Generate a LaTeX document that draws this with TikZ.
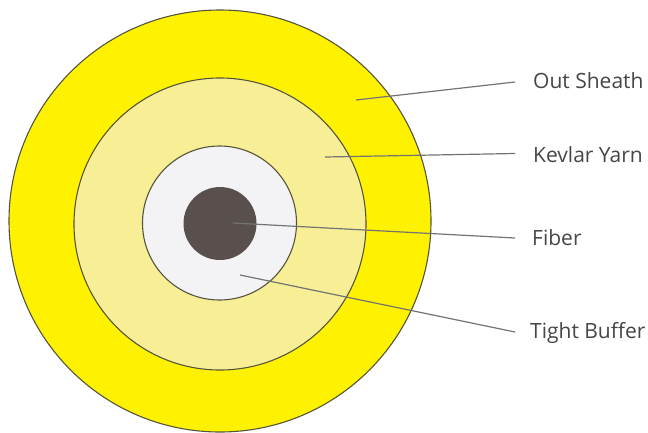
\documentclass[tikz,border=0pt]{standalone}
\usepackage{fontspec}
\setmainfont{Open Sans}
\definecolor{ringline}{RGB}{85,85,60}
\definecolor{sheath}{RGB}{255,242,0}
\definecolor{kevlar}{RGB}{247,238,150}
\definecolor{buffer}{RGB}{243,243,246}
\definecolor{core}{RGB}{89,80,78}
\definecolor{leader}{RGB}{115,115,115}
\definecolor{labeltext}{RGB}{70,70,70}
\tikzset{
  ring/.style={draw=ringline,line width=1.1pt,circle,inner sep=0pt},
  leaderline/.style={draw=leader,line width=1.2pt},
  lbl/.style={anchor=west,inner sep=0pt,text=labeltext,font=\fontsize{21pt}{24pt}\selectfont},
}
\begin{document}
\begin{tikzpicture}[x=1pt,y=-1pt]
\useasboundingbox (0,0) rectangle (648,432);
\node[ring,fill=sheath,minimum size=422pt] (outer) at (220,221) {};
\node[ring,fill=kevlar,minimum size=292pt] (yarn) at (220,224) {};
\node[ring,fill=buffer,minimum size=154pt] (tight) at (219.5,223) {};
\node[circle,inner sep=0pt,fill=core,minimum size=73pt] (fibercore) at (220,223.5) {};
\coordinate (a1) at (356,100);
\coordinate (a2) at (515,82);
\coordinate (b1) at (325,157);
\coordinate (b2) at (515,153.5);
\coordinate (c1) at (233,223);
\coordinate (c2) at (515,238);
\coordinate (d1) at (240,275);
\coordinate (d2) at (515,332);
\draw[leaderline] (a1) -- (a2);
\draw[leaderline] (b1) -- (b2);
\draw[leaderline] (c1) -- (c2);
\draw[leaderline] (d1) -- (d2);
\node[lbl] (l1) at (533,81) {Out Sheath};
\node[lbl] (l2) at (533,155) {Kevlar Yarn};
\node[lbl] (l3) at (532,238) {Fiber};
\node[lbl] (l4) at (530,333) {Tight Buffer};
\end{tikzpicture}
\end{document}
